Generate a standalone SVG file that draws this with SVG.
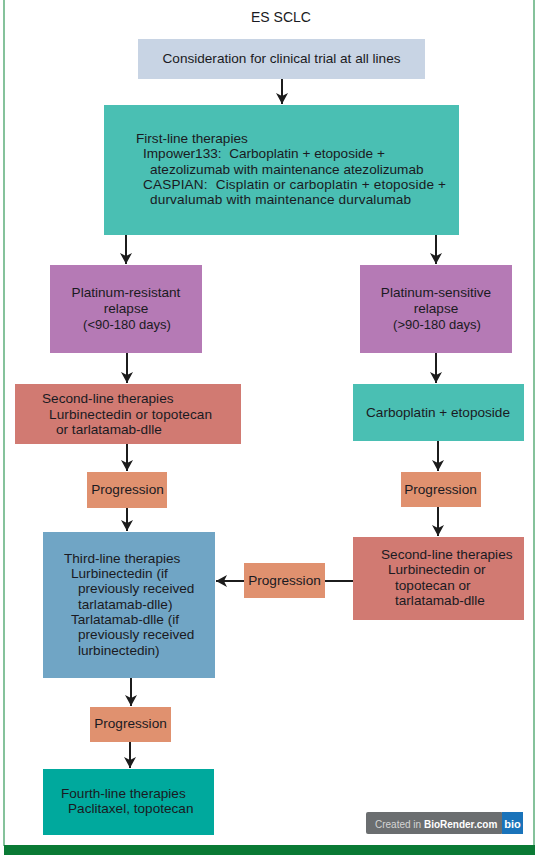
<svg xmlns="http://www.w3.org/2000/svg" width="537" height="855" viewBox="0 0 537 855">
<style>
text{font-family:"Liberation Sans",Arial,sans-serif;font-size:13.6px;fill:#1a1a22;white-space:pre}
.c{stroke:#1c1c1c;stroke-width:2;fill:none}
</style>
<defs><marker id="a" markerUnits="userSpaceOnUse" markerWidth="12" markerHeight="14" refX="11" refY="6" orient="auto"><path d="M0 0L11 6L0 12L3 6Z" fill="#1c1c1c"/></marker></defs>
<rect width="537" height="855" fill="#fff"/>
<path d="M4 0V846M534 0V846" stroke="#85c29b" stroke-width="2" fill="none"/>
<rect x="4" y="845" width="531" height="10" fill="#0a7a35"/>
<text x="281" y="22" text-anchor="middle" style="font-size:14px">ES SCLC</text>
<g id="connectors" class="c">
<path class="c" d="M282 79V104" marker-end="url(#a)"/>
<path class="c" d="M126 235V264" marker-end="url(#a)"/>
<path class="c" d="M436 235V264" marker-end="url(#a)"/>
<path class="c" d="M127 353V383" marker-end="url(#a)"/>
<path class="c" d="M436 353V383" marker-end="url(#a)"/>
<path class="c" d="M127 444V471" marker-end="url(#a)"/>
<path class="c" d="M438 441V471" marker-end="url(#a)"/>
<path class="c" d="M127 508V531" marker-end="url(#a)"/>
<path class="c" d="M438 507V536" marker-end="url(#a)"/>
<path class="c" d="M353 581H325"/>
<path class="c" d="M244 581H216" marker-end="url(#a)"/>
<path class="c" d="M131 678V706" marker-end="url(#a)"/>
<path class="c" d="M130 742V768" marker-end="url(#a)"/>
</g>
<g id="trial"><rect x="138" y="39" width="287" height="40" fill="#c8d4e4"/><text x="281.500" y="63" text-anchor="middle">Consideration for clinical trial at all lines</text></g>
<g id="first-line"><rect x="104" y="105" width="355" height="130" fill="#4abfb3"/>
<text x="136" y="143">First-line therapies</text><text x="143" y="158">Impower133:  Carboplatin + etoposide +</text><text x="150" y="174">atezolizumab with maintenance atezolizumab</text><text x="143" y="189" textLength="303">CASPIAN:  Cisplatin or carboplatin + etoposide +</text><text x="150" y="204" textLength="261">durvalumab with maintenance durvalumab</text></g>
<g id="resistant"><rect x="50" y="265" width="152" height="88" fill="#b57ab5"/><text x="126" y="297" text-anchor="middle">Platinum-resistant</text><text x="126" y="313" text-anchor="middle">relapse</text><text x="127" y="329" text-anchor="middle" style="font-size:13px">(&lt;90-180 days)</text></g>
<g id="sensitive"><rect x="360" y="265" width="152" height="88" fill="#b57ab5"/><text x="436" y="297" text-anchor="middle">Platinum-sensitive</text><text x="436" y="313" text-anchor="middle">relapse</text><text x="437" y="329" text-anchor="middle" style="font-size:13px">(&gt;90-180 days)</text></g>
<g id="second-left"><rect x="15" y="384" width="226" height="60" fill="#d17a72"/><text x="42" y="403">Second-line therapies</text><text x="49" y="419" textLength="163">Lurbinectedin or topotecan</text><text x="56" y="434">or tarlatamab-dlle</text></g>
<g id="carboplatin"><rect x="353" y="384" width="171" height="57" fill="#4abfb3"/><text x="438" y="417" text-anchor="middle">Carboplatin + etoposide</text></g>
<g id="prog-left"><rect x="87" y="472" width="80" height="36" fill="#e0916f"/><text x="127.500" y="494" text-anchor="middle">Progression</text></g>
<g id="prog-right"><rect x="401" y="472" width="80" height="35" fill="#e0916f"/><text x="440.500" y="494" text-anchor="middle">Progression</text></g>
<g id="second-right"><rect x="353" y="537" width="171" height="83" fill="#d17a72"/><text x="381" y="559">Second-line therapies</text><text x="388" y="574">Lurbinectedin or</text><text x="395" y="590">topotecan or</text><text x="395" y="605">tarlatamab-dlle</text></g>
<g id="prog-mid"><rect x="244" y="563" width="81" height="35" fill="#e0916f"/><text x="284.500" y="585" text-anchor="middle">Progression</text></g>
<g id="third"><rect x="43" y="532" width="172" height="146" fill="#70a5c5"/><text x="64" y="563">Third-line therapies</text><text x="71" y="578">Lurbinectedin (if</text><text x="78" y="593">previously received</text><text x="78" y="609">tarlatamab-dlle)</text><text x="71" y="624">Tarlatamab-dlle (if</text><text x="78" y="639">previously received</text><text x="78" y="655">lurbinectedin)</text></g>
<g id="prog-bottom"><rect x="90" y="707" width="81" height="35" fill="#e0916f"/><text x="130.500" y="728" text-anchor="middle">Progression</text></g>
<g id="fourth"><rect x="43" y="769" width="171" height="66" fill="#00a99d"/><text x="61" y="798">Fourth-line therapies</text><text x="68" y="813">Paclitaxel, topotecan</text></g>
<g id="badge"><rect x="366" y="812" width="137" height="22" rx="2" fill="#6b6e70"/><rect x="502" y="812" width="21" height="22" fill="#1a73ba"/><text x="375" y="828" style="font-size:10px;fill:#d5d5d5">Created in <tspan font-weight="700" fill="#fff">BioRender.com</tspan></text><text x="512.500" y="828" text-anchor="middle" style="font-size:11px;font-weight:700;fill:#fff">bio</text></g>
</svg>
